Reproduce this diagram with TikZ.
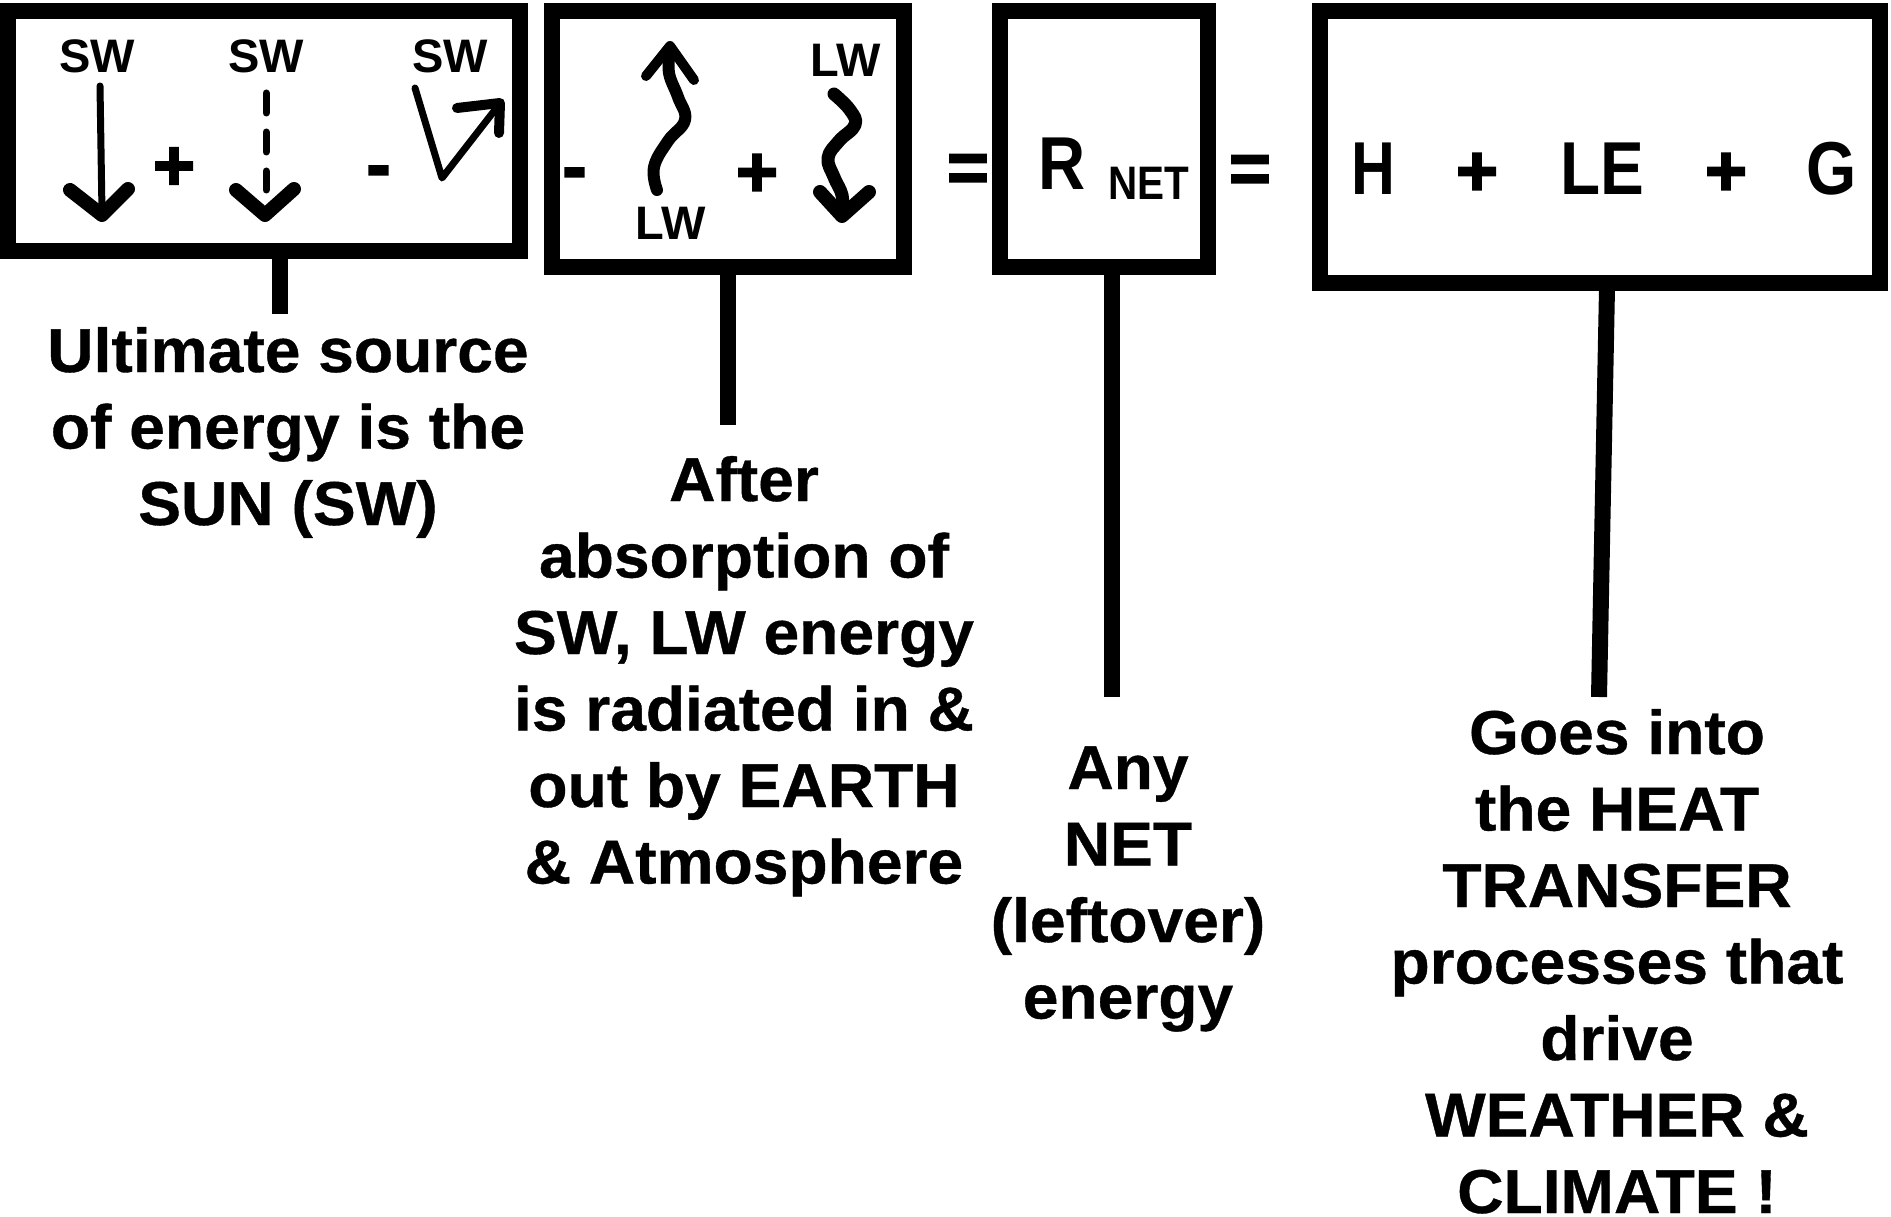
\documentclass[tikz,border=0pt]{standalone}
\usepackage{fontspec}
\usepackage{graphicx}
\setmainfont{Liberation Sans}
\newfontfamily\opfont{Liberation Sans Bold}[FakeBold=2.5]
\newfontfamily\lblfont{Liberation Sans Bold}[FakeStretch=1.035,FakeBold=0.6]
\begin{document}
\begin{tikzpicture}[x=1pt,y=-1pt,
  box/.style={draw, line width=16pt, inner sep=0pt, rectangle},
  stem/.style={line width=16pt},
  lbl/.style={anchor=base, inner sep=0pt, align=center, font=\fontsize{62}{76.5}\selectfont\lblfont},
  big/.style={anchor=base, inner sep=0pt, font=\fontsize{75}{80}\selectfont\bfseries},
  small/.style={anchor=base, inner sep=0pt, font=\fontsize{47}{50}\selectfont\bfseries},
  op/.style={anchor=base, inner sep=0pt, font=\fontsize{72}{80}\selectfont\opfont},
  pen/.style={line width=7pt, line cap=round, line join=round},
  head/.style={line width=14pt, line cap=round, line join=round},
  wave/.style={line width=12pt, line cap=round, line join=round},
]
\useasboundingbox (0,0) rectangle (1891,1217);

% boxes
\node[box, minimum width=512.5pt, minimum height=240pt] (b1) at (263.75,131) {};
\node[box, minimum width=352pt, minimum height=256pt] (b2) at (728,139) {};
\node[box, minimum width=208pt, minimum height=256pt] (b3) at (1104,139) {};
\node[box, minimum width=560pt, minimum height=272pt] (b4) at (1600,147) {};

% stems
\coordinate (e1) at (280,314);
\coordinate (e2) at (728,425);
\coordinate (e3) at (1112,697);
\coordinate (e4) at (1599,697);
\draw[stem] (b1.south -| e1) -- (e1);
\draw[stem] (b2.south -| e2) -- (e2);
\draw[stem] (b3.south -| e3) -- (e3);
\draw[stem] ([xshift=7pt,yshift=3pt]b4.south) -- (e4);

% labels (anchor base = baseline of the last line)
\node[lbl] (l1) at (288,525) {Ultimate source\\of energy is the\\SUN (SW)};
\node[lbl] (l2) at (744,883.5) {After\\absorption of\\SW, LW energy\\is radiated in \&\\out by EARTH\\\& Atmosphere};
\node[lbl] (l3) at (1128,1018.5) {Any\\NET\\(leftover)\\energy};
\node[lbl] (l4) at (1617,1213) {Goes into\\the HEAT\\TRANSFER\\processes that\\drive\\WEATHER \&\\CLIMATE !};

% box 1 contents
\node[small] (sw1) at (97,73) {SW};
\node[small] (sw2) at (266,73) {SW};
\node[small] (sw3) at (450,73) {SW};
\draw[pen] (100,86) -- (102,212);
\draw[head] (70,190) -- (102,215) -- (128,189);
\draw[pen, dash pattern=on 20pt off 19pt] (266,93) -- (266,190);
\draw[head] (236,190) -- (265,215) -- (294,189);
\draw[pen] (415,88) -- (442,178) -- (498,106);
\draw[head, line width=10pt] (457,108) -- (500,103) -- (499,133);
\node[op] (p1) at (174,190) {+};
\node[op] (m1) at (378.5,189) {-};

% box 2 contents
\node[op] (m2) at (574.5,191) {-};
\draw[wave] plot[smooth, tension=0.7] coordinates {(657,190) (654,167) (668,141) (685,120) (678,97) (669,73) (670,52)};
\draw[head, line width=10pt] (646,76) -- (670,46) -- (694,80);
\node[small] (lw1) at (671,240) {LW};
\node[op] (p2) at (757,196.5) {+};
\node[small] (lw2) at (846,77) {LW};
\draw[wave, line width=13pt] plot[smooth, tension=0.7] coordinates {(834,94) (850,110) (855,125) (839,141) (828,158) (834,177) (842,195) (842,212)};
\draw[head] (820,192) -- (842,216) -- (869,192);

% equals
\node[op] (q1) at (968,192) {=};
\node[op] (q2) at (1250,193) {=};

% box 3 contents
\node[big] (r) at (1062.5,190) {\scalebox{0.87}[1]{R}};
\node[small] (net) at (1149,200) {\scalebox{0.86}[1]{NET}};

% box 4 contents
\node[big] (h) at (1373,195) {\scalebox{0.81}[1]{H}};
\node[op] (p3) at (1477,195.5) {+};
\node[big] (le) at (1602,195) {\scalebox{0.875}[1]{LE}};
\node[op] (p4) at (1726,195.5) {+};
\node[big] (g) at (1832,195) {\scalebox{0.86}[1]{G}};
\end{tikzpicture}
\end{document}
